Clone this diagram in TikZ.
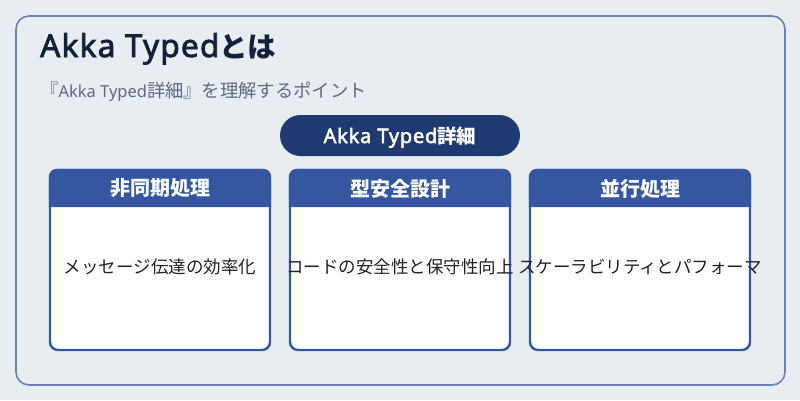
\documentclass[tikz,border=0pt]{standalone}
\usepackage{fontspec}
\setmainfont{Noto Sans CJK JP}
\newfontfamily\latinf{Noto Sans}[BoldFont={Noto Sans}, BoldFeatures={FakeBold=2.5, LetterSpace=4}]
\definecolor{bgc}{HTML}{E8EDF2}
\definecolor{framec}{HTML}{6B82B0}
\definecolor{titlec}{HTML}{14213D}
\definecolor{subc}{HTML}{5B6B85}
\definecolor{pillc}{HTML}{1F3A70}
\definecolor{cardc}{HTML}{3457A0}
\definecolor{bodyc}{HTML}{222222}
\tikzset{
  frame/.style={draw=framec, line width=1.6pt, rounded corners=13pt},
  titletext/.style={anchor=base west, inner sep=0pt, text=titlec, font=\fontsize{28.5}{34}\selectfont\bfseries},
  subtext/.style={anchor=base west, inner sep=0pt, text=subc, font=\fontsize{18.3}{22}\selectfont},
  pill/.style={fill=pillc, rounded corners=20.5pt, minimum width=240pt, minimum height=41pt, inner sep=0pt},
  pilltext/.style={anchor=base, inner sep=0pt, text=white, font=\fontsize{19.5}{23}\selectfont\bfseries},
  cardbody/.style={draw=cardc, fill=white, line width=2.4pt, rounded corners=8pt},
  hdrtext/.style={text=white, inner sep=0pt, font=\fontsize{20}{24}\selectfont\bfseries},
  bodytext/.style={text=bodyc, inner sep=0pt, font=\fontsize{17.5}{21}\selectfont},
}
\begin{document}
\begin{tikzpicture}[x=1pt, y=-1pt]
\fill[bgc] (0,0) rectangle (800,400);
\useasboundingbox (0,0) rectangle (800,400);
\draw[frame] (16,16) rectangle (785,385);
\node[titletext] (title) at (40,57) {{\latinf\bfseries\fontsize{31.5}{34}\selectfont Akka Typed}とは};
\node[subtext] (sub) at (40,97.5) {『{\latinf\fontsize{16.5}{20}\selectfont Akka Typed}詳細』を理解するポイント};
\node[pill] (pill) at (400,135.5) {};
\node[pilltext] (pilllabel) at (400,143) {{\latinf\bfseries\fontsize{20}{23}\selectfont Akka Typed}詳細};
\foreach \i/\x/\h/\b in {1/50/非同期処理/メッセージ伝達の効率化, 2/290/型安全設計/コードの安全性と保守性向上, 3/530/並行処理/スケーラビリティとパフォーマ}{
  \draw[cardbody] (\x,170) rectangle (\x+220,350);
  \fill[cardc] (\x-1.2,207) {[rounded corners=8pt] -- (\x-1.2,168.8) -- (\x+221.2,168.8)} -- (\x+221.2,207) -- cycle;
  \node[hdrtext] (h\i) at (\x+110,188.5) {\h};
  \node[bodytext] (b\i) at (\x+110,267) {\b};
}
\end{tikzpicture}
\end{document}
